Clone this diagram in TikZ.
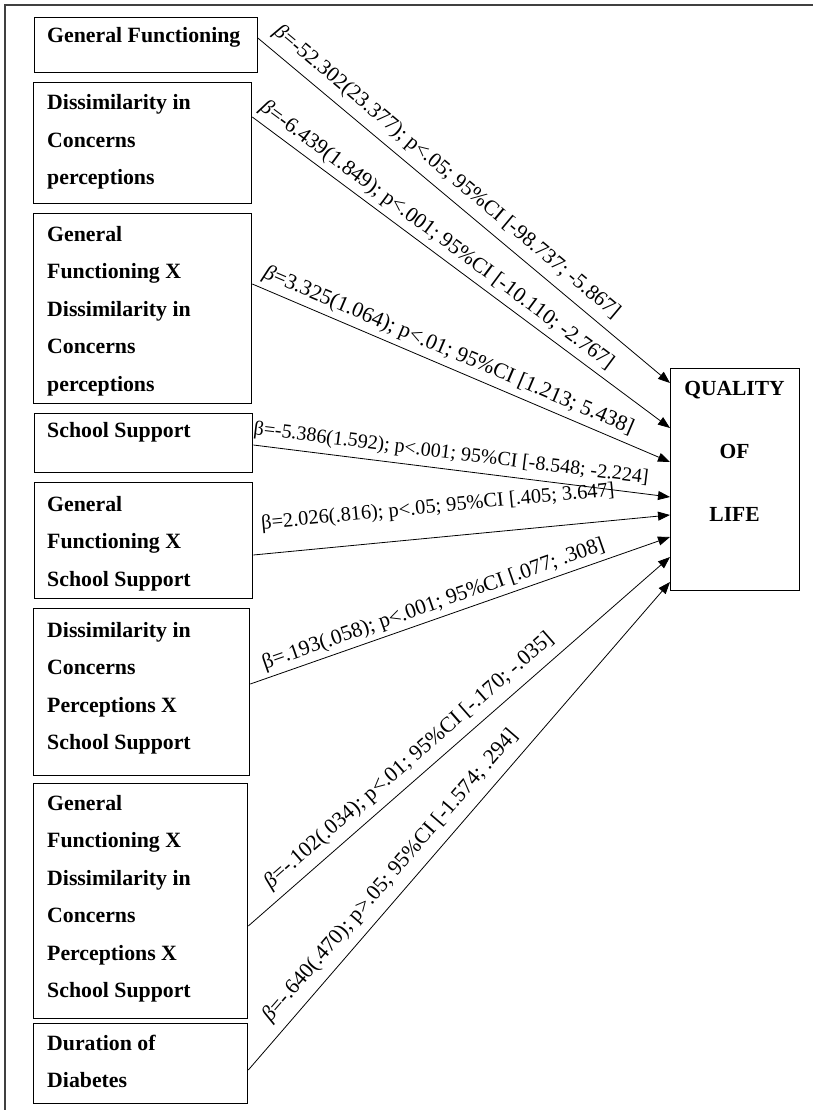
\documentclass[tikz,border=0pt]{standalone}
\usepackage{fontspec}
\setmainfont{Liberation Serif}
\usetikzlibrary{arrows.meta}
\newcommand{\bxtxt}[1]{\parbox[t]{215pt}{\raggedright #1}}
\newcommand{\ib}{{\itshape β}}
\begin{document}
\begin{tikzpicture}[x=1pt,y=-1pt,
  box/.style={draw=black, line width=1.3pt, anchor=north west, inner sep=0pt},
  btext/.style={anchor=base west, inner sep=0pt, font=\fontsize{21.8}{37.5}\selectfont\bfseries},
  arr/.style={draw=black, line width=0.8pt, -{Triangle[length=12pt,width=9pt]}},
  lab/.style={sloped, inner sep=0pt, text=black}]
\useasboundingbox (0,0) rectangle (813,1110);
\fill[white] (0,0) rectangle (813,1110);
\draw[line width=1.6pt, black!75] (5,1110) -- (5,5) -- (813,5);

% boxes
\node[box, minimum width=223pt, minimum height=55pt]  (b1) at (33.5,17) {};
\node[box, minimum width=218pt, minimum height=121pt] (b2) at (33,82) {};
\node[box, minimum width=218pt, minimum height=190pt] (b3) at (33,213) {};
\node[box, minimum width=218pt, minimum height=59pt]  (b4) at (34,413) {};
\node[box, minimum width=218pt, minimum height=116pt] (b5) at (34,482) {};
\node[box, minimum width=216pt, minimum height=167pt] (b6) at (33,608) {};
\node[box, minimum width=214pt, minimum height=235pt] (b7) at (33,783) {};
\node[box, minimum width=214pt, minimum height=80pt]  (b8) at (33,1023) {};
\node[box, minimum width=129pt, minimum height=222pt] (q)  at (670,368) {};

% box texts
\node[btext] (t1) at (47,43)  {\bxtxt{General Functioning}};
\node[btext] (t2) at (47,110) {\bxtxt{Dissimilarity in\\Concerns\\perceptions}};
\node[btext] (t3) at (47,241) {\bxtxt{General\\Functioning X\\Dissimilarity in\\Concerns\\perceptions}};
\node[btext] (t4) at (47,437) {\bxtxt{School Support}};
\node[btext] (t5) at (47,511) {\bxtxt{General\\Functioning X\\School Support}};
\node[btext] (t6) at (47,637) {\bxtxt{Dissimilarity in\\Concerns\\Perceptions X\\School Support}};
\node[btext] (t7) at (47,810) {\bxtxt{General\\Functioning X\\Dissimilarity in\\Concerns\\Perceptions X\\School Support}};
\node[btext] (t8) at (47,1050) {\bxtxt{Duration of\\Diabetes}};
\node[anchor=base, inner sep=0pt, font=\fontsize{21.5}{63}\selectfont\bfseries] (qt) at (734.5,395)
  {\parbox[t]{120pt}{\centering QUALITY\\OF\\LIFE}};

% connectors
\draw[arr] ([yshift=-21pt]b1.north east) -- ([yshift=-15pt]q.north west)
  node[lab, pos=0.43, above=8pt, font=\fontsize{21.3}{26}\selectfont] (l1)
  {\ib=-52.302(23.377); p<.05; 95\%CI [-98.737; -5.867]};
\draw[arr] ([yshift=-35pt]b2.north east) -- ([yshift=-60pt]q.north west)
  node[lab, pos=0.42, above=5pt, font=\fontsize{21.4}{26}\selectfont] (l2)
  {\ib=-6.439(1.849); p<.001; 95\%CI [-10.110; -2.767]};
\draw[arr] ([yshift=-71pt]b3.north east) -- ([yshift=-94pt]q.north west)
  node[lab, pos=0.455, above=5pt, font=\fontsize{21.8}{26}\selectfont] (l3)
  {\ib=3.325(1.064); p<.01; 95\%CI [1.213; 5.438]};
\draw[arr] ([yshift=-32pt]b4.north east) -- ([yshift=-129pt]q.north west)
  node[lab, pos=0.47, above=6pt, font=\fontsize{20}{24}\selectfont] (l4)
  {β=-5.386(1.592); p<.001; 95\%CI [-8.548; -2.224]};
\draw[arr] ([yshift=-73pt]b5.north east) -- ([yshift=-147pt]q.north west)
  node[lab, pos=0.45, above=20pt, font=\fontsize{20.4}{24}\selectfont] (l5)
  {β=2.026(.816); p<.05; 95\%CI [.405; 3.647]};
\draw[arr] ([yshift=-76pt]b6.north east) -- ([yshift=-169pt]q.north west)
  node[lab, pos=0.448, above=4pt, font=\fontsize{21.4}{26}\selectfont] (l6)
  {β=.193(.058); p<.001; 95\%CI [.077; .308]};
\draw[arr] ([yshift=-143pt]b7.north east) -- ([yshift=-189pt]q.north west)
  node[lab, pos=0.41, above=8pt, font=\fontsize{21.7}{26}\selectfont] (l7)
  {\ib=-.102(.034); p<.01; 95\%CI [-.170; -.035]};
\draw[arr] ([yshift=-47pt]b8.north east) -- ([yshift=-214pt]q.north west)
  node[lab, pos=0.372, above=9pt, font=\fontsize{21.6}{26}\selectfont] (l8)
  {\ib=-.640(.470); p>.05; 95\%CI [-1.574; .294]};
\end{tikzpicture}
\end{document}
